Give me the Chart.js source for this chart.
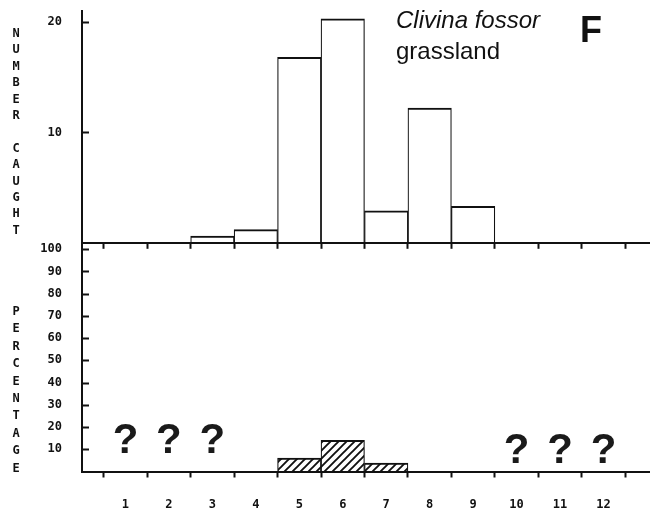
<!DOCTYPE html>
<html lang="en">
<head>
<meta charset="UTF-8" />
<title>Clivina fossor – grassland</title>
<script src="https://cdn.jsdelivr.net/npm/chart.js@4"></script>
<style>
    body {
        margin: 0;
        padding: 0;
        background: #fff;
        width: 650px;
        height: 518px;
        position: relative;
        overflow: hidden;
        font-family: 'Liberation Sans', Arial, sans-serif;
        color: #111;
    }

    .panel {
        position: absolute;
        left: 0;
        width: 650px;
    }

    #topPanel { top: 0; height: 250px; }
    #botPanel { top: 236px; height: 282px; }

    .ytitle {
        position: absolute;
        left: 10px;
        width: 12px;
        text-align: center;
        white-space: pre;
        font: bold 12px 'DejaVu Sans Mono', monospace;
    }

    #numTitle { top: 25px; line-height: 16.4px; }
    #pctTitle { top: 303px; line-height: 17.4px; }

    .label { position: absolute; white-space: nowrap; }
    #species { left: 396px; top: 8px; font-size: 24px; line-height: 24px; font-style: italic; }
    #habitat { left: 396px; top: 39px; font-size: 24px; line-height: 24px; }
    #panelId { left: 580px; top: 12px; font-size: 36px; line-height: 36px; font-weight: bold; }
</style>
</head>
<body>
    <div class="panel" id="topPanel"><canvas id="caughtChart"></canvas></div>
    <div class="panel" id="botPanel"><canvas id="percentChart"></canvas></div>

    <div class="ytitle" id="numTitle"></div>
    <div class="ytitle" id="pctTitle"></div>
    <div class="label" id="species">Clivina fossor</div>
    <div class="label" id="habitat">grassland</div>
    <div class="label" id="panelId">F</div>

<script>
    // months 1..12
    const months = [1, 2, 3, 4, 5, 6, 7, 8, 9, 10, 11, 12];
    const xLabels = ['1', '2', '3', '4', '5', '6', '7', '8', '9', '10', '11', '12'];

    // number caught per month
    const caught = [0, 0, 0.6, 1.2, 16.8, 20.3, 2.9, 12.2, 3.3, 0, 0, 0];
    // percentage (null = unknown, shown as "?")
    const percent = [null, null, null, 0, 6.0, 14.0, 3.8, 0, 0, null, null, null];

    const caughtTicks = [10, 20];
    const percentTicks = [10, 20, 30, 40, 50, 60, 70, 80, 90, 100];

    document.getElementById('numTitle').textContent = 'NUMBER CAUGHT'.split('').join('\n');
    document.getElementById('pctTitle').textContent = 'PERCENTAGE'.split('').join('\n');

    const INK = '#111';
    const tickFont = { family: "'DejaVu Sans Mono', monospace", size: 12, weight: 'bold' };

    // tick marks sit on month boundaries, labels on month centres
    const xTickValues = months.flatMap(m => [m - 0.5, m]).concat(months[months.length - 1] + 0.5);

    function xScale(showLabels, height) {
        return {
            type: 'linear',
            min: 0,
            max: 13.07,
            offset: false,
            afterBuildTicks: s => { s.ticks = xTickValues.map(v => ({ value: v })); },
            afterFit: s => { s.height = height; },
            grid: {
                offset: false,
                drawOnChartArea: false,
                drawTicks: true,
                tickLength: 6,
                tickWidth: 2,
                tickColor: c => (c.tick && Number.isInteger(c.tick.value)) ? 'rgba(0,0,0,0)' : INK
            },
            border: { display: true, color: INK, width: 2, z: 1 },
            ticks: {
                display: showLabels,
                autoSkip: false,
                maxRotation: 0,
                padding: 20,
                color: INK,
                font: tickFont,
                callback: v => Number.isInteger(v) ? xLabels[months.indexOf(v)] : ''
            }
        };
    }

    function yScale(max, tickVals) {
        return {
            min: 0,
            max: max,
            afterBuildTicks: s => { s.ticks = tickVals.map(v => ({ value: v })); },
            afterFit: s => { s.width = 82; },
            grid: { drawOnChartArea: false, drawTicks: true, tickLength: 20, tickColor: 'rgba(0,0,0,0)' },
            border: { display: true, color: INK, width: 2, z: 1 },
            ticks: { padding: 0, color: INK, font: tickFont }
        };
    }

    // y ticks point into the plot
    const innerTicks = {
        id: 'innerTicks',
        afterDraw(chart) {
            const y = chart.scales.y, ctx = chart.ctx;
            ctx.save();
            ctx.strokeStyle = INK;
            ctx.lineWidth = 2;
            y.ticks.forEach(t => {
                const py = Math.round(y.getPixelForValue(t.value)) + 0.5;
                ctx.beginPath();
                ctx.moveTo(y.right, py);
                ctx.lineTo(y.right + 7, py);
                ctx.stroke();
            });
            ctx.restore();
        }
    };

    // "?" for months without a percentage
    const unknownMarks = {
        id: 'unknownMarks',
        afterDatasetsDraw(chart) {
            const x = chart.scales.x, y = chart.scales.y, ctx = chart.ctx;
            ctx.save();
            ctx.fillStyle = '#1a1a1a';
            ctx.font = "bold 42px 'Liberation Sans', Arial, sans-serif";
            ctx.textAlign = 'center';
            ctx.textBaseline = 'alphabetic';
            percent.forEach((v, i) => {
                if (v !== null) return;
                const lift = months[i] < 6 ? 8.3 : 3.8;
                ctx.fillText('?', x.getPixelForValue(months[i]), y.getPixelForValue(lift));
            });
            ctx.restore();
        }
    };

    // diagonal hatch for the percentage bars
    function hatch() {
        const n = 8;
        const c = document.createElement('canvas');
        c.width = n; c.height = n;
        const g = c.getContext('2d');
        g.fillStyle = '#fff';
        g.fillRect(0, 0, n, n);
        g.strokeStyle = INK;
        g.lineWidth = 1.9;
        g.beginPath();
        g.moveTo(-1, n + 1); g.lineTo(n + 1, -1);
        g.moveTo(-1, 1); g.lineTo(1, -1);
        g.moveTo(n - 1, n + 1); g.lineTo(n + 1, n - 1);
        g.stroke();
        return g.createPattern(c, 'repeat');
    }

    const barBorder = { top: 2, left: 1.2, right: 1.2, bottom: 0 };

    new Chart(document.getElementById('caughtChart'), {
        type: 'bar',
        data: {
            datasets: [{
                data: months.map((m, i) => ({ x: m, y: caught[i] })),
                backgroundColor: '#fff',
                borderColor: INK,
                borderWidth: barBorder,
                borderSkipped: 'start',
                barThickness: 'flex',
                barPercentage: 1,
                categoryPercentage: 1
            }]
        },
        options: {
            responsive: true,
            maintainAspectRatio: false,
            animation: false,
            layout: { padding: { top: 11, left: 0, right: 0, bottom: 0 } },
            plugins: { legend: { display: false }, tooltip: { enabled: false } },
            scales: {
                x: xScale(false, 7),
                y: yScale(21, caughtTicks)
            }
        },
        plugins: [innerTicks]
    });

    new Chart(document.getElementById('percentChart'), {
        type: 'bar',
        data: {
            datasets: [{
                data: months.map((m, i) => ({ x: m, y: percent[i] })),
                backgroundColor: hatch(),
                borderColor: INK,
                borderWidth: barBorder,
                borderSkipped: 'start',
                barThickness: 'flex',
                barPercentage: 1,
                categoryPercentage: 1
            }]
        },
        options: {
            responsive: true,
            maintainAspectRatio: false,
            animation: false,
            layout: { padding: { top: 7, left: 0, right: 0, bottom: 0 } },
            plugins: { legend: { display: false }, tooltip: { enabled: false } },
            scales: {
                x: xScale(true, 46.5),
                y: yScale(102.7, percentTicks)
            }
        },
        plugins: [innerTicks, unknownMarks]
    });
</script>
</body>
</html>
